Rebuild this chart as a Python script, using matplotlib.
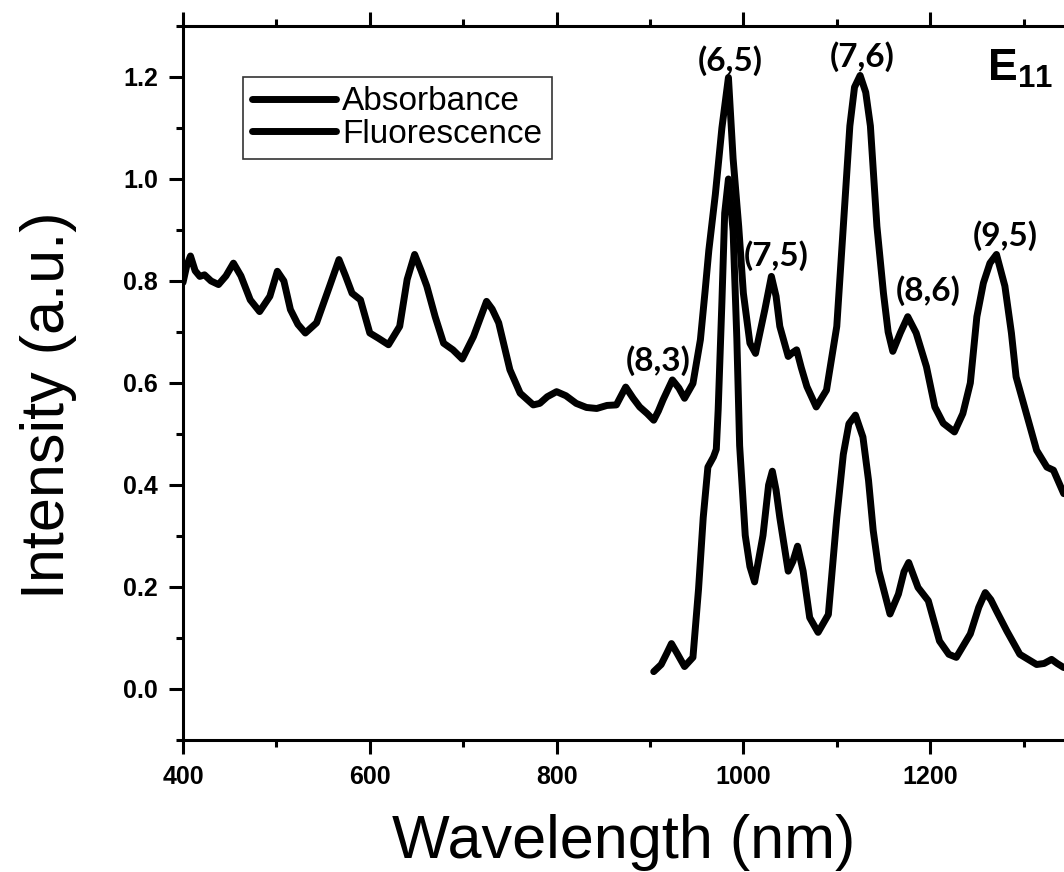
import numpy as np
import matplotlib
matplotlib.use("Agg")
import matplotlib.pyplot as plt
from matplotlib.ticker import MultipleLocator

# absorbance spectrum (wavelength nm, intensity a.u.)
abs_x = [400, 404, 408, 413, 418, 423, 430, 438, 446, 454, 462, 472, 482, 493,
         501, 508, 515, 523, 531, 543, 557, 567, 574, 581, 590, 600, 609, 620,
         632, 640, 648, 655, 661, 670, 679, 689, 699, 711, 725, 731, 738, 750,
         761, 775, 782, 790, 800, 810, 821, 832, 843, 854, 864, 874, 882, 889,
         897, 904, 909, 914, 924, 931, 937, 946, 954, 959, 963, 970, 977, 984,
         989, 995, 1000, 1007, 1013, 1023, 1030, 1035, 1039, 1048, 1053, 1057,
         1062, 1068, 1078, 1089, 1100, 1107, 1114, 1119, 1125, 1131, 1136, 1143,
         1150, 1155, 1160, 1168, 1176, 1185, 1196, 1205, 1214, 1226, 1235, 1243,
         1250, 1257, 1264, 1271, 1280, 1287, 1292, 1303, 1314, 1325, 1332, 1343]
abs_y = [0.797, 0.830, 0.849, 0.820, 0.809, 0.812, 0.800, 0.793, 0.810, 0.835,
         0.810, 0.763, 0.740, 0.770, 0.819, 0.800, 0.744, 0.715, 0.698, 0.718,
         0.790, 0.842, 0.810, 0.776, 0.763, 0.698, 0.688, 0.675, 0.711, 0.803,
         0.852, 0.820, 0.790, 0.730, 0.678, 0.665, 0.647, 0.691, 0.760, 0.745,
         0.718, 0.626, 0.580, 0.557, 0.560, 0.573, 0.583, 0.575, 0.560, 0.552,
         0.550, 0.556, 0.557, 0.592, 0.570, 0.553, 0.540, 0.527, 0.545, 0.567,
         0.606, 0.590, 0.570, 0.599, 0.685, 0.780, 0.860, 0.970, 1.100, 1.199,
         1.040, 0.907, 0.776, 0.678, 0.658, 0.744, 0.809, 0.770, 0.711, 0.652,
         0.660, 0.665, 0.630, 0.593, 0.553, 0.586, 0.711, 0.907, 1.104, 1.180,
         1.203, 1.170, 1.104, 0.907, 0.776, 0.700, 0.662, 0.698, 0.730, 0.698,
         0.632, 0.553, 0.521, 0.504, 0.540, 0.600, 0.730, 0.796, 0.835, 0.852,
         0.790, 0.698, 0.612, 0.540, 0.468, 0.435, 0.429, 0.383]

# fluorescence spectrum
fl_x = [904, 912, 918, 923, 929, 937, 946, 952, 957, 962, 968, 971, 973, 977,
        980, 984, 989, 993, 996, 1002, 1007, 1012, 1021, 1027, 1031, 1035, 1039,
        1048, 1053, 1058, 1064, 1071, 1080, 1091, 1100, 1107, 1113, 1120, 1128,
        1134, 1139, 1145, 1157, 1166, 1172, 1177, 1187, 1198, 1210, 1220, 1228,
        1243, 1252, 1259, 1265, 1271, 1282, 1296, 1314, 1322, 1330, 1336, 1343]
fl_y = [0.034, 0.048, 0.070, 0.089, 0.070, 0.044, 0.062, 0.196, 0.336, 0.435,
        0.455, 0.470, 0.547, 0.758, 0.933, 1.000, 0.898, 0.687, 0.477, 0.301,
        0.240, 0.210, 0.301, 0.400, 0.427, 0.390, 0.336, 0.231, 0.250, 0.280,
        0.231, 0.140, 0.111, 0.146, 0.336, 0.460, 0.520, 0.537, 0.494, 0.409,
        0.311, 0.232, 0.147, 0.186, 0.230, 0.248, 0.199, 0.173, 0.094, 0.068,
        0.062, 0.108, 0.160, 0.189, 0.175, 0.153, 0.114, 0.068, 0.048, 0.050,
        0.058, 0.050, 0.042]

# chirality labels (text, x, y)
peak_labels = ["(8,3)", "(6,5)", "(7,5)", "(7,6)", "(8,6)", "(9,5)"]
peak_x = [909, 985.6, 1035.6, 1126.7, 1198, 1280]
peak_y = [0.643, 1.232, 0.849, 1.240, 0.781, 0.889]

plt.rcParams['font.family'] = ['Liberation Sans', 'DejaVu Sans']

fig = plt.figure(figsize=(10.64, 8.72), dpi=100)
ax = fig.add_axes([0.172, 0.1514, 0.828, 0.8188])

ax.plot(abs_x, abs_y, color='black', lw=5, label='Absorbance',
        solid_joinstyle='round', solid_capstyle='round')
ax.plot(fl_x, fl_y, color='black', lw=5, label='Fluorescence',
        solid_joinstyle='round', solid_capstyle='round')

for txt, px, py in zip(peak_labels, peak_x, peak_y):
    ax.text(px, py, txt, ha='center', va='center', fontsize=24,
            fontweight='bold', family=['Lato', 'DejaVu Sans'])

ax.text(1260.8, 1.193, r'$\mathregular{E_{11}}$', ha='left', va='baseline',
        fontsize=32, fontweight='bold')

ax.set_xlim(400, 1343.3)
ax.set_ylim(-0.1, 1.3)
ax.xaxis.set_major_locator(MultipleLocator(200))
ax.xaxis.set_minor_locator(MultipleLocator(100))
ax.yaxis.set_major_locator(MultipleLocator(0.2))
ax.yaxis.set_minor_locator(MultipleLocator(0.1))
ax.yaxis.set_major_formatter(plt.FuncFormatter(lambda v, p: f"{v:.1f}"))

ax.spines['right'].set_visible(False)
for s in ['left', 'top', 'bottom']:
    ax.spines[s].set_linewidth(2.2)

ax.tick_params(which='both', direction='out', top=True, right=False, width=2.2)
ax.tick_params(which='major', length=10, labelsize=18, pad=8)
ax.tick_params(which='minor', length=5)
for lab in ax.get_xticklabels() + ax.get_yticklabels():
    lab.set_fontweight('bold')

ax.set_xlabel('Wavelength (nm)', fontsize=44, va='baseline')
ax.xaxis.set_label_coords(0.5, -0.165)
ax.set_ylabel('Intensity (a.u.)', fontsize=44)
ax.yaxis.set_label_coords(-0.12, 0.469)

leg = ax.legend(loc='upper left', bbox_to_anchor=(0.068, 0.9286), fontsize=24,
                frameon=True, fancybox=False, edgecolor='black',
                handlelength=2.5, handletextpad=0.2, labelspacing=0.05,
                borderpad=0.28, borderaxespad=0)
leg.get_frame().set_linewidth(1.2)

fig.savefig('out.png', dpi=100)
